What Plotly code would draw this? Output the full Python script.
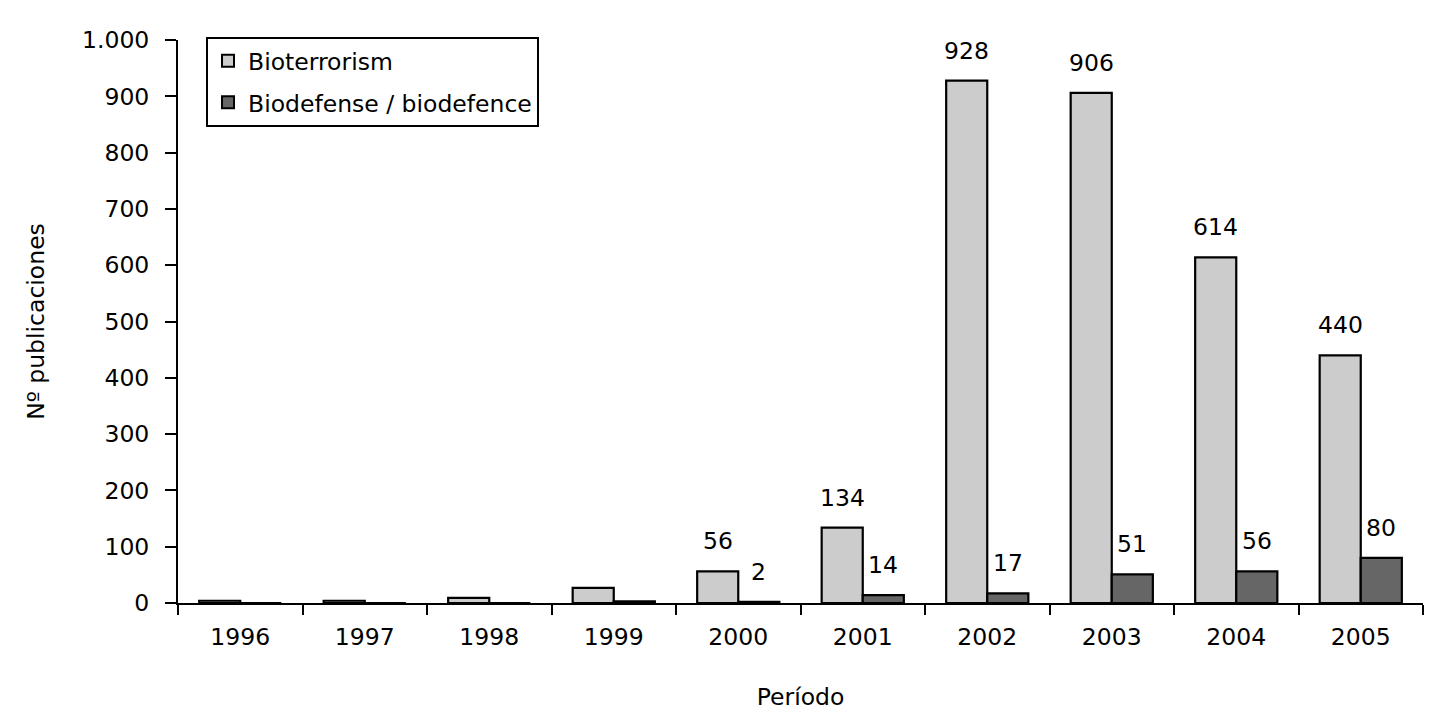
import plotly.graph_objects as go

years = ["1996", "1997", "1998", "1999", "2000", "2001", "2002", "2003", "2004", "2005"]
bioterrorism = [4, 4, 9, 27, 56, 134, 928, 906, 614, 440]
biodefense = [0, 0, 0, 3, 2, 14, 17, 51, 56, 80]
bioterrorism_labels = ["", "", "", "", "56", "134", "928", "906", "614", "440"]
biodefense_labels = ["", "", "", "", "2", "14", "17", "51", "56", "80"]
y_tickvals = [0, 100, 200, 300, 400, 500, 600, 700, 800, 900, 1000]
y_ticktext = ["0", "100", "200", "300", "400", "500", "600", "700", "800", "900", "1.000"]

FONT = "DejaVu Sans, Liberation Sans, Arial, sans-serif"
FS = 23.5

fig = go.Figure()
fig.add_trace(go.Bar(
    x=years, y=bioterrorism, name="Bioterrorism", legendgroup="a",
    marker=dict(color="#cccccc", line=dict(color="black", width=2.2)),
))
fig.add_trace(go.Bar(
    x=years, y=biodefense, name="Biodefense / biodefence", legendgroup="b",
    marker=dict(color="#666666", line=dict(color="black", width=2.2)),
))

annotations = []
for i, (v, t) in enumerate(zip(bioterrorism, bioterrorism_labels)):
    if t:
        annotations.append(dict(x=i, y=v, text=t, xref="x", yref="y", showarrow=False,
                                yanchor="bottom", xanchor="center", xshift=-20.5, yshift=14,
                                font=dict(family=FONT, size=FS, color="black")))
for i, (v, t) in enumerate(zip(biodefense, biodefense_labels)):
    if t:
        annotations.append(dict(x=i, y=v, text=t, xref="x", yref="y", showarrow=False,
                                yanchor="bottom", xanchor="center", xshift=20.5, yshift=14,
                                font=dict(family=FONT, size=FS, color="black")))

fig.update_layout(
    width=1445, height=726,
    margin=dict(l=170, r=30, t=32, b=131, autoexpand=False),
    paper_bgcolor="white", plot_bgcolor="white",
    barmode="group", bargap=0.34, bargroupgap=0,
    font=dict(family=FONT, size=FS, color="black"),
    showlegend=True,
    legend=dict(
        x=0.0225, y=1.0053, xanchor="left", yanchor="top",
        bordercolor="black", borderwidth=2, bgcolor="white",
        font=dict(family=FONT, size=FS, color="black"),
        itemsizing="constant", tracegroupgap=8, traceorder="grouped",
    ),
    annotations=annotations,
    xaxis=dict(
        type="category", categoryorder="array", categoryarray=years,
        range=[-0.5, 9.5],
        showline=True, linecolor="black", linewidth=2,
        ticks="outside", tickson="boundaries", ticklen=10, tickwidth=2, tickcolor="black",
        tickangle=0, ticklabelstandoff=12,
        showgrid=False, zeroline=False,
        tickfont=dict(family=FONT, size=FS, color="black"),
        title=dict(text="Período", standoff=38, font=dict(family=FONT, size=FS, color="black")),
        automargin=False,
    ),
    yaxis=dict(
        range=[0, 1000],
        tickvals=y_tickvals, ticktext=y_ticktext,
        showline=True, linecolor="black", linewidth=2,
        ticks="outside", ticklen=11, tickwidth=2, tickcolor="black",
        showgrid=False, zeroline=False,
        tickfont=dict(family=FONT, size=FS, color="black"),
        ticklabelstandoff=11,
        title=dict(text="Nº publicaciones", standoff=31, font=dict(family=FONT, size=FS, color="black")),
        automargin=False,
    ),
)

fig.write_html("out.html")
